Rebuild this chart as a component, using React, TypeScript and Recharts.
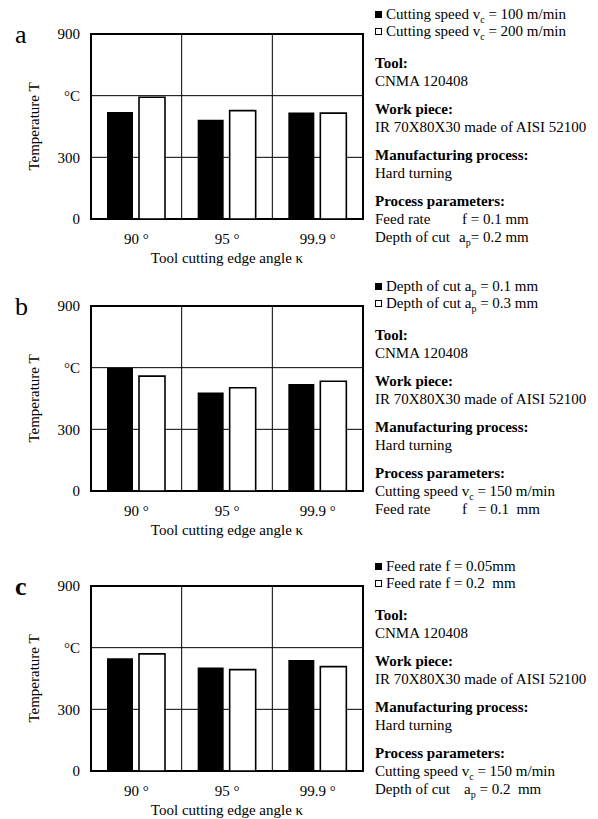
import React from 'react';
import { BarChart, Bar, XAxis, YAxis, CartesianGrid, ReferenceArea, Legend } from 'recharts';

const FONT = "'Liberation Serif', 'Times New Roman', Times, serif";

const categories = ['90 °', '95 °', '99.9 °'];
const yTicks = [0, 300, 600, 900];
const yTickLabels = ['0', '300', '°C', '900'];

// panel a: cutting speed
const speed100 = [520, 483, 518];
const speed200 = [592, 527, 515];
// panel b: depth of cut
const depth01 = [600, 479, 521];
const depth03 = [559, 502, 534];
// panel c: feed rate
const feed005 = [548, 504, 540];
const feed02 = [570, 493, 508];

const seriesFills = ['#000000', '#ffffff'];

const sectionHeads = ['Tool:', 'Work piece:', 'Manufacturing process:', 'Process parameters:'];
const toolText = 'CNMA 120408';
const workText = 'IR 70X80X30 made of AISI 52100';
const processText = 'Hard turning';

type Seg = { t: string; x?: number; sub?: boolean };

const paramsA: Seg[][] = [
  [{ t: 'Feed rate' }, { t: 'f = 0.1 mm', x: 462 }],
  [{ t: 'Depth of cut' }, { t: 'a', x: 459 }, { t: 'p', sub: true }, { t: '= 0.2 mm' }],
];
const paramsB: Seg[][] = [
  [{ t: 'Cutting speed v' }, { t: 'c', sub: true }, { t: ' = 150 m/min' }],
  [{ t: 'Feed rate' }, { t: 'f', x: 462 }, { t: '= 0.1  mm', x: 478 }],
];
const paramsC: Seg[][] = [
  [{ t: 'Cutting speed v' }, { t: 'c', sub: true }, { t: ' = 150 m/min' }],
  [{ t: 'Depth of cut' }, { t: 'a', x: 464 }, { t: 'p', sub: true }, { t: ' = 0.2  mm' }],
];

const legendA: Seg[][] = [
  [{ t: 'Cutting speed v' }, { t: 'c', sub: true }, { t: ' = 100 m/min' }],
  [{ t: 'Cutting speed v' }, { t: 'c', sub: true }, { t: ' = 200 m/min' }],
];
const legendB: Seg[][] = [
  [{ t: 'Depth of cut a' }, { t: 'p', sub: true }, { t: ' = 0.1 mm' }],
  [{ t: 'Depth of cut a' }, { t: 'p', sub: true }, { t: ' = 0.3 mm' }],
];
const legendC: Seg[][] = [
  [{ t: 'Feed rate f = 0.05mm' }],
  [{ t: 'Feed rate f = 0.2  mm' }],
];

function renderSvgSegs(segs: Seg[]) {
  let inSub = false;
  return segs.map((s, i) => {
    const p: any = {};
    if (s.x !== undefined) p.x = s.x;
    if (s.sub) {
      p.dy = 4;
      p.fontSize = 10;
    } else if (inSub) {
      p.dy = -4;
    }
    inSub = !!s.sub;
    return (
      <tspan key={i} {...p}>
        {s.t}
      </tspan>
    );
  });
}

function renderHtmlSegs(segs: Seg[]) {
  return segs.map((s, i) =>
    s.sub ? (
      <span key={i} style={{ fontSize: 10, position: 'relative', top: 4 }}>
        {s.t}
      </span>
    ) : (
      <span key={i}>{s.t}</span>
    )
  );
}

const gridX = ({ offset }: any) => [offset.left + offset.width / 3, offset.left + (offset.width * 2) / 3];

const YTitle = (props: any) => {
  const vb = props.viewBox || { x: 0, y: 34, width: 91, height: 185 };
  const cx = vb.x + 39;
  const cy = vb.y + vb.height / 2;
  return (
    <text x={cx} y={cy} transform={`rotate(-90 ${cx} ${cy})`} textAnchor="middle" fontFamily={FONT} fontSize={15} fill="#000">
      Temperature T
    </text>
  );
};

const XTitle = (props: any) => {
  const vb = props.viewBox || { x: 91, y: 219, width: 272, height: 53 };
  return (
    <text x={vb.x + vb.width / 2} y={vb.y + 44} textAnchor="middle" fontFamily={FONT} fontSize={15} fill="#000">
      Tool cutting edge angle κ
    </text>
  );
};

type PanelProps = {
  top: number;
  height: number;
  letter: string;
  letterBold?: boolean;
  s1: number[];
  s2: number[];
  legend: Seg[][];
  params: Seg[][];
};

function Panel({ top, height, letter, letterBold, s1, s2, legend, params }: PanelProps) {
  const data = categories.map((c, i) => ({ cat: c, s1: s1[i], s2: s2[i] }));
  const sections: Seg[][][] = [[[{ t: toolText }]], [[{ t: workText }]], [[{ t: processText }]], params];
  const legendContent = (props: any) => {
    const payload = props.payload || [];
    return (
      <div style={{ fontFamily: FONT, fontSize: 15, color: '#000', lineHeight: '17px' }}>
        {payload.map((entry: any, i: number) => (
          <div key={i} style={{ height: 17, display: 'flex', alignItems: 'center', whiteSpace: 'pre' }}>
            <span
              style={{
                display: 'inline-block',
                width: 7,
                height: 7,
                boxSizing: 'border-box',
                border: '1px solid #000',
                background: seriesFills[i],
                marginRight: 4,
              }}
            />
            <span>{renderHtmlSegs(legend[i])}</span>
          </div>
        ))}
      </div>
    );
  };
  return (
    <div style={{ position: 'absolute', left: 0, top, width: 598, height }}>
      <BarChart
        width={598}
        height={height}
        data={data}
        margin={{ top: 34, right: 235, bottom: 0, left: 0 }}
        barSize={26}
        barGap={6}
      >
        <CartesianGrid stroke="#000" strokeWidth={1} verticalCoordinatesGenerator={gridX} />
        <XAxis
          dataKey="cat"
          axisLine={false}
          tickLine={false}
          height={height - 219}
          interval={0}
          tickMargin={8}
          tick={{ fill: '#000', fontSize: 15, fontFamily: FONT }}
          label={<XTitle />}
        />
        <YAxis
          domain={[0, 900]}
          ticks={yTicks}
          tickFormatter={(v: number) => yTickLabels[yTicks.indexOf(v)]}
          width={91}
          axisLine={false}
          tickLine={false}
          tickMargin={5}
          tick={{ fill: '#000', fontSize: 15, fontFamily: FONT }}
          label={<YTitle />}
        />
        <Bar dataKey="s1" name="s1" fill={seriesFills[0]} isAnimationActive={false} />
        <Bar dataKey="s2" name="s2" fill={seriesFills[1]} stroke="#000" strokeWidth={1.6} isAnimationActive={false} />
        <ReferenceArea y1={0} y2={900} fill="none" fillOpacity={0} stroke="#000" strokeWidth={2} ifOverflow="visible" />
        <Legend
          layout="horizontal"
          verticalAlign="middle"
          align="center"
          wrapperStyle={{ left: 375, top: 6, width: 223 }}
          content={legendContent}
        />
      </BarChart>
      <svg
        width={598}
        height={height}
        style={{ position: 'absolute', left: 0, top: 0, pointerEvents: 'none' }}
      >
        <text x={15} y={43} fontFamily={FONT} fontSize={26} fontWeight={letterBold ? 'bold' : 'normal'} fill="#000">
          {letter}
        </text>
        {sectionHeads.map((h, si) => {
          const y0 = 68 + 46 * si;
          return (
            <g key={si}>
              <text x={375} y={y0} fontFamily={FONT} fontSize={15} fontWeight="bold" fill="#000">
                {h}
              </text>
              {sections[si].map((line, li) => (
                <text
                  key={li}
                  x={375}
                  y={y0 + 18 * (li + 1)}
                  fontFamily={FONT}
                  fontSize={15}
                  fill="#000"
                  style={{ whiteSpace: 'pre' }}
                >
                  {renderSvgSegs(line)}
                </text>
              ))}
            </g>
          );
        })}
      </svg>
    </div>
  );
}

export default function App() {
  return (
    <div style={{ position: 'absolute', left: 0, top: 0, width: 598, height: 819, background: '#fff', overflow: 'hidden' }}>
      <Panel top={0} height={272} letter="a" s1={speed100} s2={speed200} legend={legendA} params={paramsA} />
      <Panel top={272} height={272} letter="b" s1={depth01} s2={depth03} legend={legendB} params={paramsB} />
      <Panel top={552} height={267} letter="c" letterBold s1={feed005} s2={feed02} legend={legendC} params={paramsC} />
    </div>
  );
}
